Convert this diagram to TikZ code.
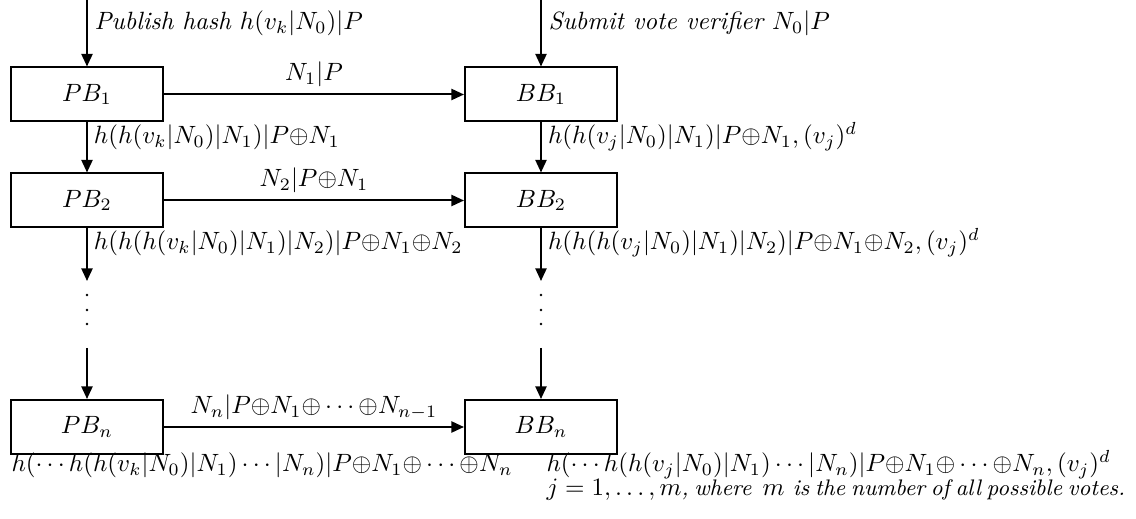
\documentclass[tikz,border=0pt]{standalone}
\usepackage{fontspec}
\usetikzlibrary{arrows.meta}
\newcommand{\pit}{\itshape}
\newcommand{\smit}{\fontsize{9}{11}\selectfont\itshape\spaceskip=2.3pt plus 0.5pt}
\begin{document}
\begin{tikzpicture}[x=0.4pt,y=-0.4pt,
  box/.style={draw,thick,minimum width=60.8pt,minimum height=21.6pt,inner sep=0pt},
  arr/.style={thick,-{Triangle[length=5pt,width=4.4pt]}},
  lbl/.style={inner sep=0pt,anchor=base west},
  hlbl/.style={above,inner sep=2.5pt},
  dot/.style={fill,circle,inner sep=0pt,minimum size=1.1pt}]
\useasboundingbox (0,0) rectangle (1136,519);
% boxes
\node[box] (PB1) at (87,94.5) {$PB_1$};
\node[box] (BB1) at (541,94.5) {$BB_1$};
\node[box] (PB2) at (87,200.5) {$PB_2$};
\node[box] (BB2) at (541,200.5) {$BB_2$};
\node[box] (PBn) at (87,427) {$PB_n$};
\node[box] (BBn) at (541,427) {$BB_n$};
% inputs
\coordinate (inP) at (87,0);
\coordinate (inB) at (541,0);
\draw[arr] (inP) -- (PB1);
\draw[arr] (inB) -- (BB1);
\node[lbl] (lp0) at (94,30) {\pit Publish hash $h(v_k|N_0)|P$};
\node[lbl] (lb0) at (548,30) {\pit Submit vote verifier $N_0|P$};
% horizontal
\draw[arr] (PB1) -- node[hlbl] (h1) {$N_1|P$} (BB1);
\draw[arr] (PB2) -- node[hlbl] (h2) {$N_2|P{\oplus}N_1$} (BB2);
\draw[arr] (PBn) -- node[hlbl] (hn) {$N_n|P{\oplus}N_1{\oplus}\cdots{\oplus}N_{n-1}$} (BBn);
% vertical 1->2
\draw[arr] (PB1) -- (PB2);
\draw[arr] (BB1) -- (BB2);
\node[lbl] (lp1) at ([xshift=2.6pt,yshift=-8.6pt]PB1.south) {$h(h(v_k|N_0)|N_1)|P{\oplus}N_1$};
\node[lbl] (lb1) at ([xshift=2.6pt,yshift=-8.6pt]BB1.south) {$h(h(v_j|N_0)|N_1)|P{\oplus}N_1, (v_j)^d$};
% vertical 2 -> gap
\coordinate (gP1) at (87,281);
\coordinate (gP2) at (87,348);
\coordinate (gB1) at (541,281);
\coordinate (gB2) at (541,348);
\draw[arr] (PB2) -- (gP1);
\draw[arr] (BB2) -- (gB1);
\node[lbl] (lp2) at ([xshift=2.6pt,yshift=-8.6pt]PB2.south) {$h(h(h(v_k|N_0)|N_1)|N_2)|P{\oplus}N_1{\oplus}N_2$};
\node[lbl] (lb2) at ([xshift=2.6pt,yshift=-8.6pt]BB2.south) {$h(h(h(v_j|N_0)|N_1)|N_2)|P{\oplus}N_1{\oplus}N_2, (v_j)^d$};
\foreach \yy/\nm in {295/a,310/b,324/c}{
  \node[dot] (dP\nm) at (87,\yy) {};
  \node[dot] (dB\nm) at (541,\yy) {};
}
\draw[arr] (gP2) -- (PBn);
\draw[arr] (gB2) -- (BBn);
% bottom labels
\node[lbl] (lpn) at (11,472) {$h(\cdots h(h(v_k|N_0)|N_1)\cdots|N_n)|P{\oplus}N_1{\oplus}\cdots{\oplus}N_n$};
\node[lbl] (lbn) at (546,472) {$h(\cdots h(h(v_j|N_0)|N_1)\cdots|N_n)|P{\oplus}N_1{\oplus}\cdots{\oplus}N_n, (v_j)^d$};
\node[lbl] (note) at (546,496) {$j=1,\ldots,m${\smit, where}\hspace{4.5pt}$m$ {\smit is the number of all possible votes.}};
\end{tikzpicture}
\end{document}
